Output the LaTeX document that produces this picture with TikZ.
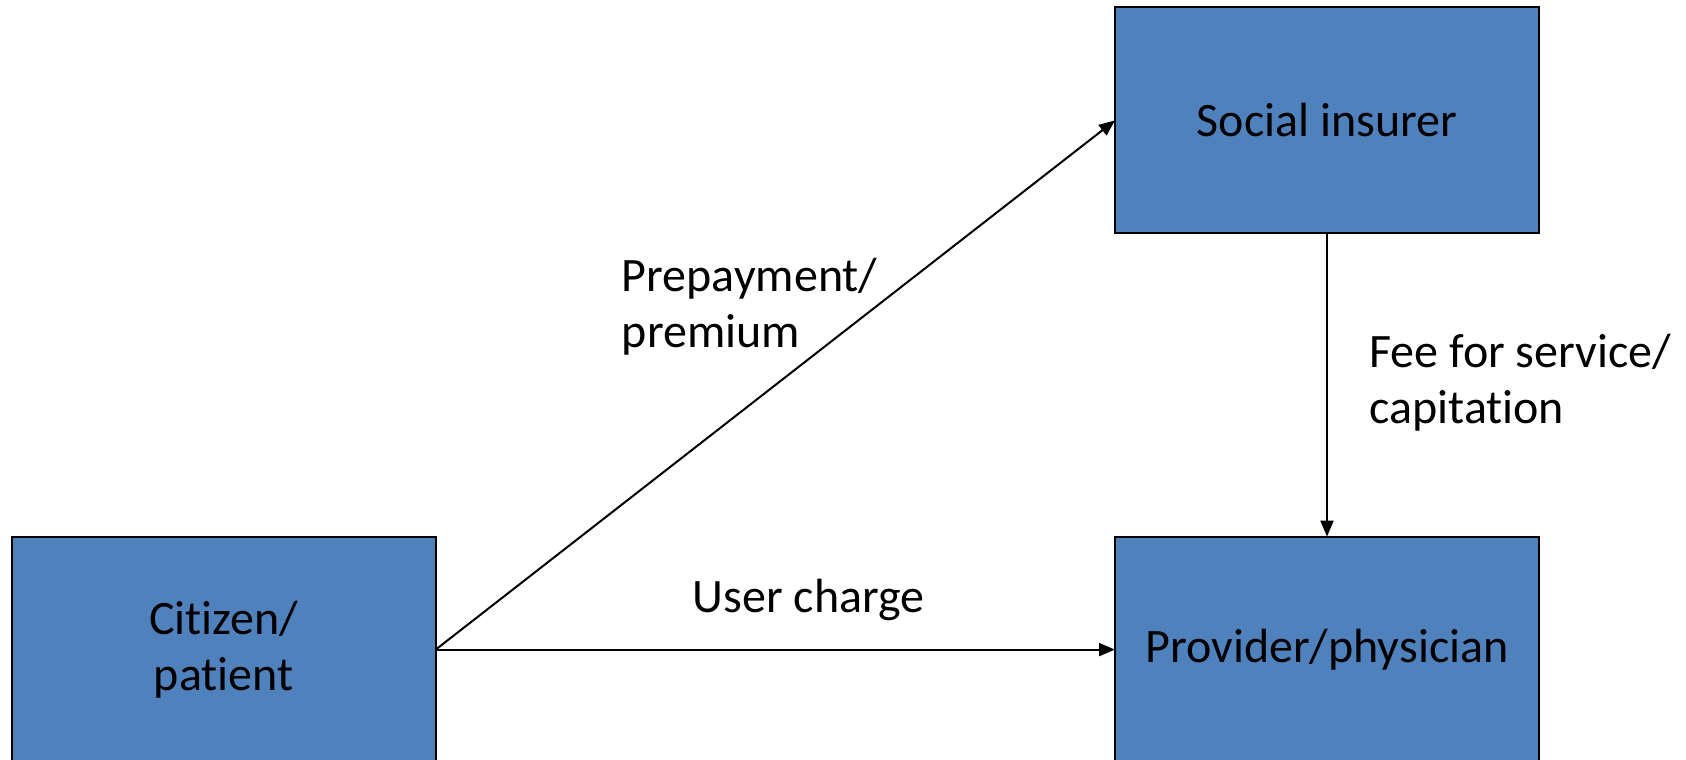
\documentclass[tikz,border=0pt]{standalone}
\usepackage{fontspec}
\setmainfont{Carlito}[RawFeature={-liga}]
\usetikzlibrary{arrows.meta}
\definecolor{boxblue}{HTML}{4F81BD}
\tikzset{
  party/.style={draw=black, line width=1pt, fill=boxblue, minimum width=212pt,
    minimum height=113pt, inner sep=0pt, outer sep=0pt, align=center,
    font=\fontsize{24pt}{28pt}\selectfont},
  flowlabel/.style={inner sep=0pt, align=left, font=\fontsize{24pt}{28pt}\selectfont},
  flow/.style={line width=1pt, -{Triangle[length=8pt,width=6.5pt]}}
}
\begin{document}
\begin{tikzpicture}[x=0.5pt, y=-0.5pt]
  \useasboundingbox (0,0) rectangle (1686,760);
  % the three parties
  \node[party] (insurer)  at (1327,120.4) {\raisebox{-1.5pt}{Social insurer}};
  \node[party] (citizen)  at (223.7,649.6) {Citizen/\\patient};
  \node[party] (provider) at (1327,649.6) {\raisebox{-1pt}{Provider/physician}};
  % payment flows
  \draw[flow] (citizen.east) -- (insurer.west);
  \draw[flow] (citizen.east) -- (provider.west);
  \draw[flow] (insurer.south) -- (provider.north);
  % flow labels
  \node[flowlabel, anchor=west] (prem) at (621.5,307) {Prepayment/\\premium};
  \node[flowlabel] (charge) at (808.6,600) {User charge};
  \node[flowlabel, anchor=west] (fee) at (1369,383) {Fee for service/\\capitation};
\end{tikzpicture}
\end{document}
